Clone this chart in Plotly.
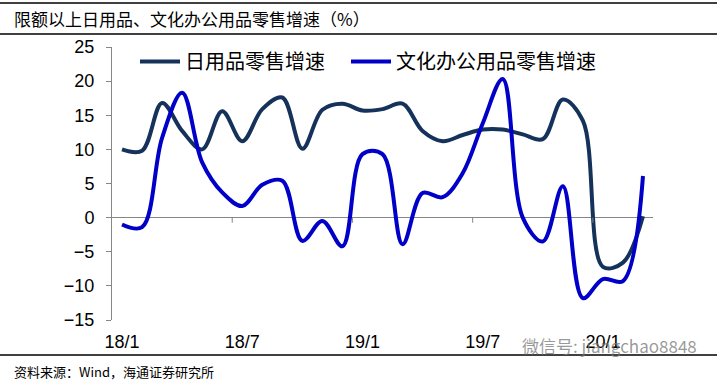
import plotly.graph_objects as go

# ---- data ----
months = ["2018-01", "2018-02", "2018-03", "2018-04", "2018-05", "2018-06",
          "2018-07", "2018-08", "2018-09", "2018-10", "2018-11", "2018-12",
          "2019-01", "2019-02", "2019-03", "2019-04", "2019-05", "2019-06",
          "2019-07", "2019-08", "2019-09", "2019-10", "2019-11", "2019-12",
          "2020-01", "2020-02", "2020-03"]
daily_goods = [10.0, 9.8, 16.8, 12.7, 10.0, 15.6, 11.2, 15.9, 17.6, 10.1,
               15.8, 16.7, 15.7, 15.9, 16.7, 12.7, 11.2, 12.1, 12.9, 12.9,
               12.2, 11.5, 17.3, 14.2, -7.2, -6.6, 0.2]
office_goods = [-1.0, -1.4, 11.7, 18.3, 8.1, 3.7, 1.7, 4.8, 5.4, -3.4,
                -0.5, -4.2, 9.3, 9.3, -3.9, 3.6, 3.0, 6.5, 13.8, 20.3,
                0.0, -3.5, 4.6, -11.8, -9.0, -9.3, 6.1]
tick_labels = ["18/1", "18/7", "19/1", "19/7", "20/1"]
tick_step = 6
series_names = ["日用品零售增速", "文化办公用品零售增速"]
title_text = "限额以上日用品、文化办公用品零售增速（%）"
source_text = "资料来源：Wind，海通证券研究所"
watermark_text = "微信号: jiangchao8848"

# ---- geometry helpers ----
W, H = 717, 383
ML, MR, MT, MB = 112, 64, 47, 63
PW, PH = W - ML - MR, H - MT - MB


def px(xp):
    return (xp - ML) / PW


def py(yp):
    return (H - MB - yp) / PH


idx = list(range(len(months)))
tickvals = idx[::tick_step]

cjk = "Noto Sans CJK SC"
num = "Liberation Sans, Arial"

fig = go.Figure()
fig.add_trace(go.Scatter(x=idx, y=daily_goods, mode="lines", name=series_names[0],
                         legend="legend",
                         line=dict(color="#15325a", width=4, shape="spline", smoothing=1.0)))
fig.add_trace(go.Scatter(x=idx, y=office_goods, mode="lines", name=series_names[1],
                         legend="legend2",
                         line=dict(color="#0000c8", width=4, shape="spline", smoothing=1.0)))

shapes = []
# category tick marks on the zero line
for k in range(tick_step, len(months), tick_step):
    shapes.append(dict(type="line", xref="x", yref="y", x0=k - 0.5, x1=k - 0.5,
                       y0=0, y1=-0.75, line=dict(color="#868686", width=1)))
# frame lines (header / footer rules)
for yp in [3, 34, 355]:
    shapes.append(dict(type="line", xref="paper", yref="paper",
                       x0=px(0), x1=px(W), y0=py(yp), y1=py(yp),
                       line=dict(color="#000000", width=1.5)))

annotations = [
    dict(text=title_text, xref="paper", yref="paper", x=px(12), y=py(19),
         xanchor="left", yanchor="middle", showarrow=False,
         font=dict(family=cjk, size=17, color="#000000")),
    dict(text=source_text, xref="paper", yref="paper", x=px(12), y=py(371),
         xanchor="left", yanchor="middle", showarrow=False,
         font=dict(family=cjk, size=13, color="#000000")),
    dict(text=watermark_text, xref="paper", yref="paper", x=px(520), y=py(345),
         xanchor="left", yanchor="middle", showarrow=False,
         font=dict(family=cjk, size=17, color="rgba(120,120,120,0.75)")),
]

legend_common = dict(orientation="h", yanchor="top", xanchor="left", y=py(42),
                     font=dict(family=cjk, size=20, color="#000000"),
                     itemwidth=40, bgcolor="rgba(0,0,0,0)")

fig.update_layout(
    width=W, height=H,
    margin=dict(l=ML, r=MR, t=MT, b=MB, pad=0),
    paper_bgcolor="white", plot_bgcolor="white",
    showlegend=True,
    legend=dict(x=px(135), **legend_common),
    legend2=dict(x=px(346), **legend_common),
    xaxis=dict(range=[-0.5, len(months) - 0.5], tickvals=tickvals, ticktext=tick_labels,
               showline=False, showgrid=False, zeroline=False, ticks="",
               ticklabelstandoff=9,
               tickfont=dict(family=num, size=18, color="#000000")),
    yaxis=dict(range=[-15, 25], dtick=5, tick0=0, showline=True, linecolor="#868686",
               linewidth=1, ticks="outside", ticklen=5, tickcolor="#868686",
               showgrid=False, zeroline=True, zerolinecolor="#868686", zerolinewidth=1,
               ticklabelstandoff=8,
               tickfont=dict(family=num, size=18, color="#000000")),
    shapes=shapes, annotations=annotations,
)

fig.write_html("out.html", config={"displayModeBar": False},
               post_script="document.body.style.margin='0';document.body.style.overflow='hidden';")
